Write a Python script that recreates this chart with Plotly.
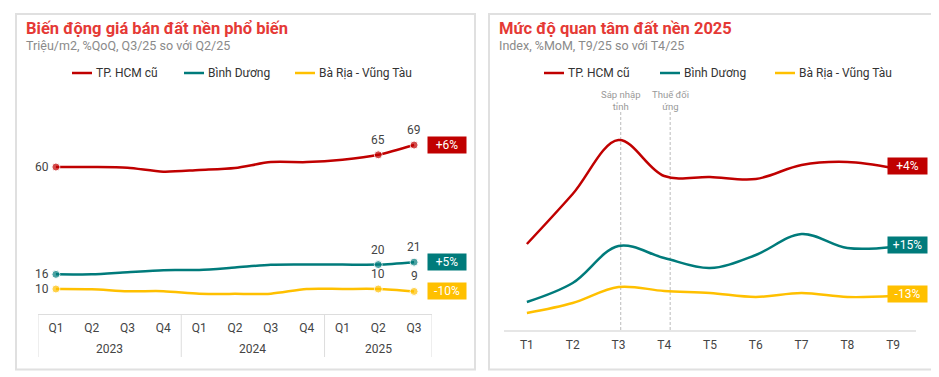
import plotly.graph_objects as go

# page body has an 8px margin: the figure is placed at (8, 8) in the window
WIN_W, WIN_H = 939, 377
OFF = 8
W, H = WIN_W - OFF, WIN_H - OFF

# ---------------- data ----------------
series_names = ["TP. HCM cũ", "Bình Dương", "Bà Rịa - Vũng Tàu"]
colors = ["#C00000", "#007B7B", "#FFC000"]

years = ["2023"] * 4 + ["2024"] * 4 + ["2025"] * 3
quarters = ["Q1", "Q2", "Q3", "Q4", "Q1", "Q2", "Q3", "Q4", "Q1", "Q2", "Q3"]
hcm_price = [60, 60, 59.7, 58.1, 58.8, 59.6, 62.0, 62.0, 63.0, 65, 69]
bd_price = [16, 16, 16.9, 17.7, 17.8, 18.8, 19.9, 20, 20, 20, 21]
brvt_price = [10, 9.9, 9.1, 9.1, 8.1, 8.0, 8.1, 10, 10, 10, 9]
price_change = ["+6%", "+5%", "-10%"]
marked_idx = [0, 9, 10]

months = ["T1", "T2", "T3", "T4", "T5", "T6", "T7", "T8", "T9"]
hcm_interest = [86, 136, 190, 154, 153, 151, 165, 168, 162]
bd_interest = [28, 47, 84, 72, 62, 75, 96, 82, 83]
brvt_interest = [17, 27, 43, 39, 37, 33, 37, 33, 34]
interest_change = ["+4%", "+15%", "-13%"]
events = ["Sáp nhập<br>tỉnh", "Thuế đối<br>ứng"]
event_pos = [2.05, 3.13]

FONT = "Roboto"
GRID = "#DDDDDD"


def px_x(p):
    return (p - OFF) / W


def px_y(p):
    return 1 - (p - OFF) / H


fig = go.Figure()
qx = list(range(len(quarters)))

# ---------------- left chart ----------------
price_series = [hcm_price, bd_price, brvt_price]
for name, col, vals in zip(series_names, colors, price_series):
    fig.add_trace(go.Scatter(
        x=qx, y=vals, name=name, mode="lines+markers",
        line=dict(color=col, width=2.5, shape="spline", smoothing=0.8),
        marker=dict(color=col, size=[8 if i in marked_idx else 0 for i in range(len(vals))]),
        xaxis="x", yaxis="y", showlegend=False, hoverinfo="skip"))

# ---------------- right chart ----------------
interest_series = [hcm_interest, bd_interest, brvt_interest]
for name, col, vals in zip(series_names, colors, interest_series):
    fig.add_trace(go.Scatter(
        x=list(range(len(months))), y=vals, name=name, mode="lines",
        line=dict(color=col, width=2.5, shape="spline", smoothing=1.0),
        xaxis="x2", yaxis="y2", showlegend=False, hoverinfo="skip"))

annotations = []
shapes = []

# panel borders
for (x0, y0, x1, y1) in [(16, 14, 475, 369.5), (489, 14, 934, 369.5)]:
    shapes.append(dict(type="rect", xref="paper", yref="paper",
                       x0=px_x(x0), x1=px_x(x1), y0=px_y(y0), y1=px_y(y1),
                       line=dict(color="#E0E0E0", width=2), layer="below"))

# titles
titles = [("Biến động giá bán đất nền phổ biến", "Triệu/m2, %QoQ, Q3/25 so với Q2/25", 24),
          ("Mức độ quan tâm đất nền 2025", "Index, %MoM, T9/25 so với T4/25", 497)]
for t, s, x in titles:
    annotations.append(dict(text="<b>" + t + "</b>", xref="paper", yref="paper",
                            x=px_x(x), y=px_y(28.5), xanchor="left", yanchor="middle",
                            showarrow=False, font=dict(family=FONT, size=16.5, color="#E53935")))
    annotations.append(dict(text=s, xref="paper", yref="paper",
                            x=px_x(x), y=px_y(45.5), xanchor="left", yanchor="middle",
                            showarrow=False, font=dict(family=FONT, size=12.5, color="#8A8A8A")))

# manual legends
for starts in ([72, 184, 295], [544, 660, 775]):
    for x0, name, col in zip(starts, series_names, colors):
        shapes.append(dict(type="line", xref="paper", yref="paper",
                           x0=px_x(x0), x1=px_x(x0 + 20), y0=px_y(73), y1=px_y(73),
                           line=dict(color=col, width=2.5)))
        annotations.append(dict(text=name, xref="paper", yref="paper",
                                x=px_x(x0 + 22), y=px_y(73), xanchor="left", yanchor="middle",
                                showarrow=False, font=dict(family=FONT, size=12, color="#333333")))

# year groups on the quarter axis
groups = []
for i, y in enumerate(years):
    if not groups or groups[-1][0] != y:
        groups.append([y, i, i])
    else:
        groups[-1][2] = i
for y, a, b in groups:
    annotations.append(dict(text=y, xref="x", yref="paper", x=(a + b) / 2, y=px_y(349),
                            xanchor="center", yanchor="middle", showarrow=False,
                            font=dict(family=FONT, size=12, color="#444444")))
bounds = [groups[0][1] - 0.5] + [g[2] + 0.5 for g in groups]
for bx in bounds:
    shapes.append(dict(type="line", xref="x", yref="paper", x0=bx, x1=bx,
                       y0=px_y(314), y1=px_y(357), line=dict(color=GRID, width=1)))

# left data labels
for vals in price_series:
    annotations.append(dict(text=f"{vals[0]:g}", xref="x", yref="y", x=0, y=vals[0],
                            xanchor="right", yanchor="middle", xshift=-5, showarrow=False,
                            font=dict(family=FONT, size=12, color="#444444")))
    for i in marked_idx[1:]:
        annotations.append(dict(text=f"{vals[i]:g}", xref="x", yref="y", x=i, y=vals[i],
                                xanchor="center", yanchor="middle", yshift=15, showarrow=False,
                                font=dict(family=FONT, size=12, color="#444444")))

# badges
for vals, lab, col in zip(price_series, price_change, colors):
    n = len(vals) - 1
    annotations.append(dict(text=lab, xref="x", yref="y", x=n, y=vals[n],
                            xanchor="left", yanchor="middle", xshift=13, showarrow=False,
                            bgcolor=col, borderpad=2, width=34, height=12,
                            font=dict(family=FONT, size=12, color="white")))
for vals, lab, col in zip(interest_series, interest_change, colors):
    n = len(vals) - 1
    annotations.append(dict(text=lab, xref="x2", yref="y2", x=n, y=vals[n],
                            xanchor="left", yanchor="middle", xshift=-6, yshift=2, showarrow=False,
                            bgcolor=col, borderpad=2, width=35, height=12,
                            font=dict(family=FONT, size=12, color="white")))

# events
for pos, ev in zip(event_pos, events):
    shapes.append(dict(type="line", xref="x2", yref="y2", x0=pos, x1=pos, y0=0, y1=218,
                       line=dict(color="#BBBBBB", width=1, dash="3px,2px"), layer="below"))
    annotations.append(dict(text=ev, xref="x2", yref="paper", x=pos, y=px_y(101),
                            xanchor="center", yanchor="middle", showarrow=False,
                            font=dict(family=FONT, size=9.5, color="#999999")))

fig.update_layout(
    width=W, height=H, margin=dict(l=0, r=0, t=0, b=0),
    paper_bgcolor="white", plot_bgcolor="white",
    font=dict(family=FONT, size=12, color="#444444"),
    xaxis=dict(domain=[px_x(38), px_x(432)], range=[-0.5, 10.5], anchor="y",
               tickmode="array", tickvals=qx, ticktext=quarters,
               showline=True, linecolor=GRID, linewidth=1, showgrid=False, zeroline=False,
               ticks="outside", ticklen=3, tickcolor="rgba(0,0,0,0)",
               tickfont=dict(family=FONT, size=12, color="#444444"), fixedrange=True),
    yaxis=dict(domain=[px_y(314), px_y(100)], range=[-0.25, 87.46], visible=False,
               anchor="x", fixedrange=True),
    xaxis2=dict(domain=[px_x(504), px_x(916)], range=[-0.5, 8.5], tickmode="array",
                anchor="y2",
                tickvals=list(range(len(months))), ticktext=months,
                showline=True, linecolor="#E6E6E6", linewidth=2, showgrid=False, zeroline=False,
                ticks="outside", ticklen=3, tickcolor="rgba(0,0,0,0)",
                tickfont=dict(family=FONT, size=12, color="#444444"), fixedrange=True),
    yaxis2=dict(domain=[px_y(330), px_y(100)], range=[0, 230], visible=False, anchor="x2",
                fixedrange=True),
    annotations=annotations, shapes=shapes,
)

fig.write_html("out.html")
